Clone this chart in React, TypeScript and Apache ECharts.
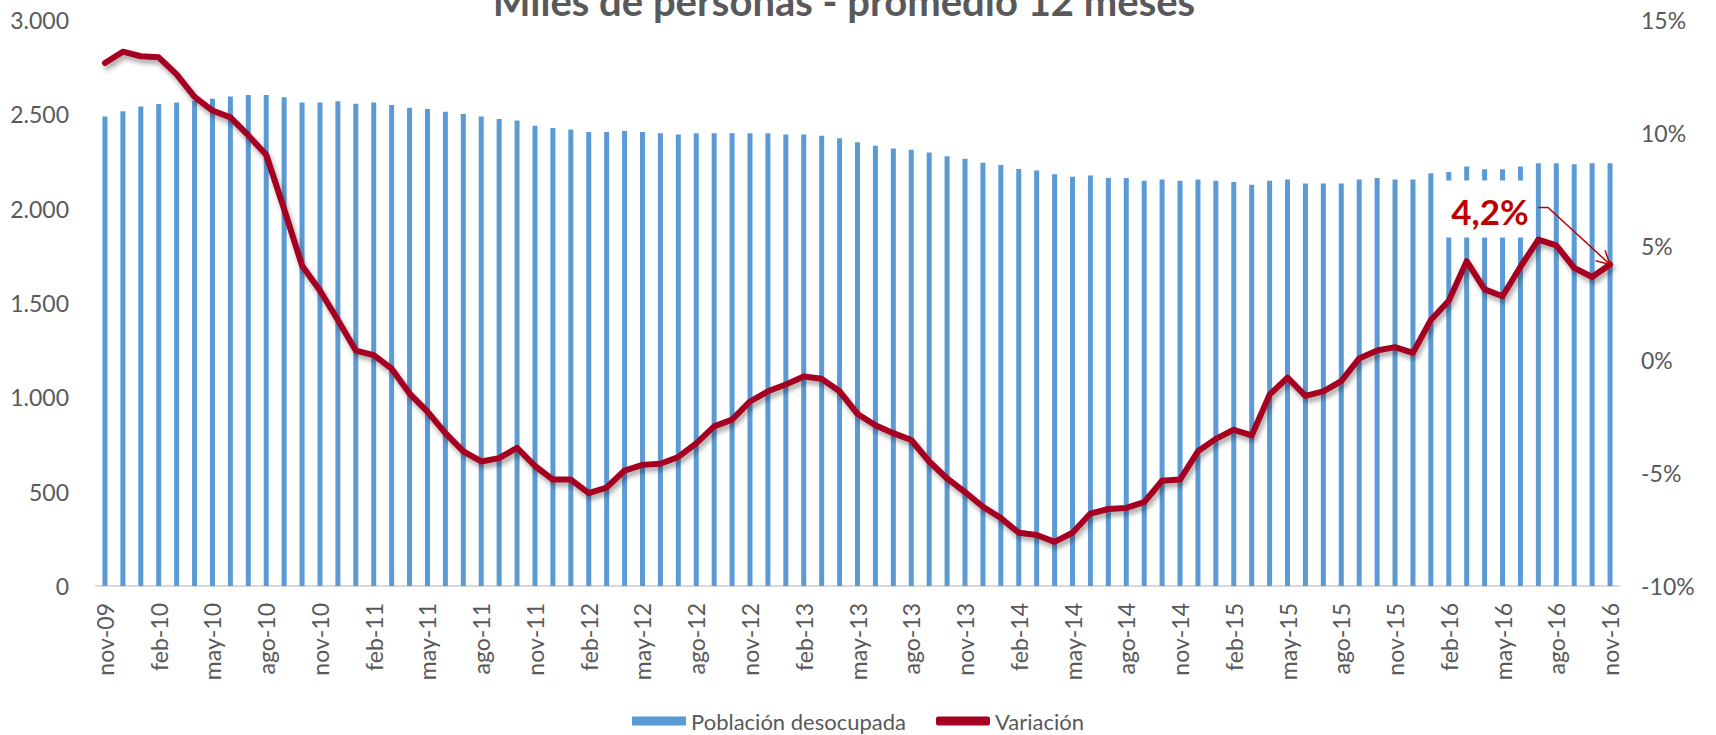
import React, { useEffect, useRef } from "react";
import * as echarts from "echarts";

const MONTHS = ["ene", "feb", "mar", "abr", "may", "jun", "jul", "ago", "sep", "oct", "nov", "dic"];
const START_MONTH = 10; // nov
const START_YEAR = 9; // 2009
const N_MONTHS = 85;
const categories: string[] = [];
for (let i = 0; i < N_MONTHS; i++) {
  const k = START_MONTH + i;
  categories.push(`${MONTHS[k % 12]}-${String(START_YEAR + Math.floor(k / 12)).padStart(2, "0")}`);
}

const TITLE = "Miles de personas - promedio 12 meses";
const BAR_NAME = "Población desocupada";
const LINE_NAME = "Variación";
const ANNOTATION = "4,2%";

// Población desocupada (miles de personas)
const poblacion = [
  2489, 2516, 2542, 2555, 2563, 2572, 2583, 2595, 2602, 2602, 2590, 2563,
  2563, 2569, 2556, 2563, 2549, 2535, 2528, 2514, 2502, 2488, 2475, 2467,
  2440, 2428, 2420, 2407, 2407, 2412, 2407, 2400, 2393, 2400, 2400, 2400,
  2400, 2400, 2393, 2393, 2386, 2373, 2352, 2333, 2319, 2312, 2298, 2278,
  2264, 2243, 2231, 2210, 2202, 2183, 2169, 2176, 2162, 2162, 2148, 2155,
  2148, 2155, 2148, 2141, 2127, 2148, 2155, 2134, 2134, 2134, 2155, 2162,
  2155, 2155, 2188, 2195, 2224, 2209, 2209, 2224, 2241, 2241, 2236, 2241,
  2241,
];

// Variación (%)
const variacion = [
  13.1, 13.6, 13.4, 13.35, 12.6, 11.6, 11.0, 10.7, 9.9, 9.05, 6.65, 4.15,
  3.05, 1.75, 0.4, 0.2, -0.4, -1.5, -2.3, -3.25, -4.05, -4.5, -4.35, -3.9,
  -4.7, -5.3, -5.3, -5.9, -5.65, -4.9, -4.65, -4.6, -4.3, -3.7, -2.95, -2.65,
  -1.85, -1.4, -1.1, -0.75, -0.85, -1.4, -2.4, -2.9, -3.25, -3.55, -4.5, -5.25,
  -5.85, -6.5, -7.0, -7.65, -7.75, -8.05, -7.65, -6.8, -6.6, -6.55, -6.3, -5.35,
  -5.3, -4.05, -3.5, -3.1, -3.35, -1.55, -0.8, -1.6, -1.4, -0.95, 0.05, 0.4,
  0.55, 0.3, 1.75, 2.6, 4.35, 3.1, 2.8, 4.1, 5.3, 5.05, 4.05, 3.65,
  4.2,
];

const LEFT_MIN = 0, LEFT_MAX = 3000, LEFT_STEP = 500;
const RIGHT_MIN = -10, RIGHT_MAX = 15, RIGHT_STEP = 5;

const FONT = "Lato";
const GRAY = "#595959";
const BLUE = "#5B9BD5";
const RED = "#A50021";
const ANNOT_RED = "#C00000";

function fmtThousands(v: number): string {
  if (v >= 1000) return `${Math.floor(v / 1000)}.${String(v % 1000).padStart(3, "0")}`;
  return `${v}`;
}

export default function App() {
  const ref = useRef<HTMLDivElement>(null);
  useEffect(() => {
    if (!ref.current) return;
    const chart = echarts.init(ref.current, undefined, { renderer: "svg" });
    chart.setOption({
      animation: false,
      backgroundColor: "#ffffff",
      textStyle: { fontFamily: FONT },
      grid: { left: 96, right: 97, top: 20, bottom: 149, containLabel: false },
      legend: {
        left: "center",
        top: 705,
        itemWidth: 54,
        itemHeight: 9,
        itemGap: 30,
        textStyle: { color: GRAY, fontSize: 22, fontFamily: FONT },
        data: [
          { name: BAR_NAME, icon: "rect" },
          { name: LINE_NAME, icon: "roundRect" },
        ],
      },
      xAxis: {
        type: "category",
        data: categories,
        axisTick: { show: false },
        axisLine: { lineStyle: { color: "#D9D9D9", width: 2 } },
        axisLabel: {
          rotate: 90,
          interval: 2,
          margin: 17,
          fontSize: 23,
          color: GRAY,
          fontFamily: FONT,
        },
      },
      yAxis: [
        {
          type: "value",
          min: LEFT_MIN,
          max: LEFT_MAX,
          interval: LEFT_STEP,
          splitLine: { show: false },
          axisLine: { show: false },
          axisTick: { show: false },
          axisLabel: {
            margin: 27,
            fontSize: 23,
            color: GRAY,
            fontFamily: FONT,
            formatter: (v: number) => fmtThousands(v),
          },
        },
        {
          type: "value",
          min: RIGHT_MIN,
          max: RIGHT_MAX,
          interval: RIGHT_STEP,
          position: "right",
          splitLine: { show: false },
          axisLine: { show: false },
          axisTick: { show: false },
          axisLabel: {
            margin: 22,
            fontSize: 23,
            color: GRAY,
            fontFamily: FONT,
            formatter: (v: number) => `${v}%`,
          },
        },
      ],
      series: [
        {
          name: BAR_NAME,
          type: "bar",
          data: poblacion,
          barWidth: 5,
          itemStyle: { color: BLUE },
          yAxisIndex: 0,
        },
        {
          name: LINE_NAME,
          type: "line",
          data: variacion,
          yAxisIndex: 1,
          showSymbol: false,
          symbol: "none",
          itemStyle: { color: RED },
          lineStyle: {
            color: RED,
            width: 6,
            cap: "round",
            join: "round",
            shadowColor: "rgba(0,0,0,0.35)",
            shadowBlur: 5,
            shadowOffsetX: 2,
            shadowOffsetY: 4,
          },
          z: 3,
        },
      ],
    });

    const last = variacion.length - 1;
    const [px, py] = chart.convertToPixel({ seriesIndex: 1 }, [last, variacion[last]]) as number[];
    const sx = px - 62, sy = py - 57;
    const ang = Math.atan2(py - sy, px - sx);
    const L = 15, th = (28 * Math.PI) / 180;
    const h1 = [px - L * Math.cos(ang - th), py - L * Math.sin(ang - th)];
    const h2 = [px - L * Math.cos(ang + th), py - L * Math.sin(ang + th)];

    chart.setOption({
      graphic: [
        {
          type: "text",
          x: 844,
          y: 1,
          z: 100,
          style: {
            text: TITLE,
            fontSize: 40,
            fontWeight: "bold",
            fontFamily: FONT,
            fill: GRAY,
            align: "center",
            verticalAlign: "middle",
          },
        },
        {
          type: "rect",
          z: 100,
          shape: { x: px - 166, y: py - 84, width: 91, height: 57 },
          style: { fill: "#ffffff" },
        },
        {
          type: "text",
          z: 101,
          x: px - 120,
          y: py - 54,
          style: {
            text: ANNOTATION,
            fontSize: 35,
            fontWeight: "bold",
            fontFamily: FONT,
            fill: ANNOT_RED,
            align: "center",
            verticalAlign: "middle",
          },
        },
        {
          type: "polyline",
          z: 101,
          shape: { points: [[px - 72, sy], [sx, sy], [px, py]] },
          style: { stroke: ANNOT_RED, lineWidth: 1.5, fill: "none" },
        },
        {
          type: "polyline",
          z: 101,
          shape: { points: [h1, [px, py], h2] },
          style: { stroke: ANNOT_RED, lineWidth: 1.5, fill: "none" },
        },
      ],
    });

    return () => chart.dispose();
  }, []);

  return (
    <div
      ref={ref}
      style={{ position: "fixed", left: 0, top: 0, width: 1716, height: 735, background: "#fff" }}
    />
  );
}
